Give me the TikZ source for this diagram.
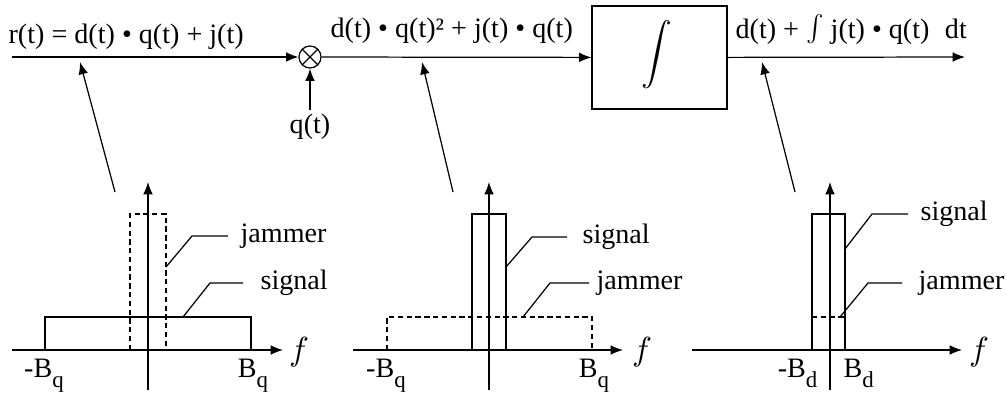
\documentclass[tikz,border=0pt]{standalone}
\usepackage{fontspec}
\setmainfont{Liberation Serif}
\usetikzlibrary{arrows.meta}

\newcommand{\lowsub}[1]{\raisebox{-0.38em}{\fontsize{13}{13}\selectfont #1}}

\begin{document}
\begin{tikzpicture}[x=0.02cm, y=-0.02cm, line width=0.7pt,
      txt/.style={font=\fontsize{16}{18}\selectfont, inner sep=0pt},
      arr/.style={-{Latex[length=7pt,width=5.5pt]}},
      blk/.style={draw, minimum width=2.7cm, minimum height=2.06cm, inner sep=0pt},
      mixer/.style={draw, circle, minimum size=0.44cm, inner sep=0pt,
                    path picture={\draw (path picture bounding box.north west) -- (path picture bounding box.south east)
                                        (path picture bounding box.north east) -- (path picture bounding box.south west);}},
      freq/.style={inner sep=0pt},
      jam/.style={dash pattern=on 3pt off 2pt}]

    \useasboundingbox (0,0) rectangle (1007,396);

    % signal chain
    \coordinate (src) at (12,57);
    \node[mixer] (mult) at (310,57) {};
    \node[blk] (integ) at (659.5,57.5) {};
    \node[inner sep=0pt] (intsym) at (657,55) {\scalebox{1.75}{$\displaystyle\int$}};
    \coordinate (sink) at (965,57);
    \node[txt, inner sep=2pt] (qlbl) at (310,127) {q(t)};

    \draw[arr] (src) -- (mult);
    \draw[arr] (qlbl.north) -- (mult.south);
    \draw[arr] (mult) -- (integ);
    \draw[arr] (integ) -- (sink);

    \node[txt, anchor=base west] (rlbl) at (8,43) {r(t) = d(t) • q(t) + j(t)};
    \node[txt, anchor=base west] (mlbl) at (330,37) {d(t) • q(t)² + j(t) • q(t)};
    \node[txt, anchor=base west] (olbl) at (735,38) {d(t) + \raisebox{-0.06cm}{\scalebox{1.5}{$\int$}} j(t) • q(t)\hspace{0.3em} dt};

    % pointers from the spectra
    \coordinate (p1) at (115,192);  \coordinate (h1) at (80,62);
    \coordinate (p2) at (453,192);  \coordinate (h2) at (422,62);
    \coordinate (p3) at (795,192);  \coordinate (h3) at (762,62);
    \draw[arr] (p1) -- (h1);
    \draw[arr] (p2) -- (h2);
    \draw[arr] (p3) -- (h3);

    % spectrum before despreading
    \draw[arr] (12,350) -- (283,350);
    \draw[arr] (148,390) -- (148,182);
    \draw (45,350) -- (45,317) -- (251,317) -- (251,350);
    \draw[jam] (130,350) -- (130,214) -- (166,214) -- (166,350);
    \node[freq] (f1) at (299,352) {\scalebox{1.9}{$f$}};
    \node[txt, anchor=base] (bl1) at (44,377) {-B\lowsub{q}};
    \node[txt, anchor=base] (br1) at (253,377) {B\lowsub{q}};
    \node[txt, anchor=west] (jl1) at (240,236) {jammer};
    \node[txt, anchor=west] (sl1) at (260,283) {signal};
    \draw (166,267) -- (192,236) -- (228,236);
    \draw (183,317) -- (210,283) -- (243,283);

    % spectrum after despreading
    \draw[arr] (353,350) -- (623,350);
    \draw[arr] (489,390) -- (489,182);
    \draw (472,350) -- (472,214) -- (506,214) -- (506,350);
    \draw[jam] (387,350) -- (387,317) -- (592,317) -- (592,350);
    \node[freq] (f2) at (642,352) {\scalebox{1.9}{$f$}};
    \node[txt, anchor=base] (bl2) at (386,377) {-B\lowsub{q}};
    \node[txt, anchor=base] (br2) at (594,377) {B\lowsub{q}};
    \node[txt, anchor=west] (sl2) at (582,237) {signal};
    \node[txt, anchor=west] (jl2) at (596,283) {jammer};
    \draw (506,267) -- (532,237) -- (567,237);
    \draw (523,317) -- (550,283) -- (589,283);

    % spectrum after integration
    \draw[arr] (692,350) -- (962,350);
    \draw[arr] (830,390) -- (830,182);
    \draw (812,350) -- (812,214) -- (845,214) -- (845,350);
    \draw[jam] (812,317) -- (845,317);
    \node[freq] (f3) at (979,352) {\scalebox{1.9}{$f$}};
    \node[txt, anchor=base east] (bl3) at (818,377) {-B\lowsub{d}};
    \node[txt, anchor=base west] (br3) at (843,377) {B\lowsub{d}};
    \node[txt, anchor=west] (sl3) at (920,214) {signal};
    \node[txt, anchor=west] (jl3) at (918,283) {jammer};
    \draw (845,249) -- (872,214) -- (908,214);
    \draw (840,317) -- (868,283) -- (902,283);
\end{tikzpicture}
\end{document}
